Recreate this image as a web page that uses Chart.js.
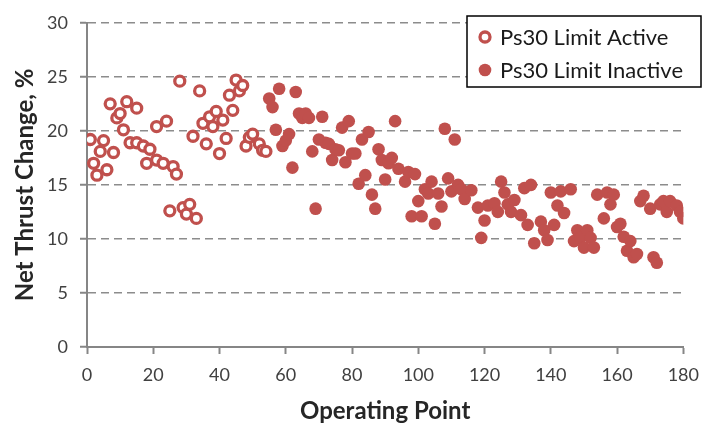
<!DOCTYPE html>
<html>
<head>
<meta charset="utf-8">
<script src="https://cdn.jsdelivr.net/npm/chart.js@4"></script>
<style>
  body { margin: 0; background: #fff; }
</style>
</head>
<body>
<canvas id="thrust" width="709" height="429"></canvas>
<script>
// Ps30 limit active points (operating point, net thrust change %)
const activeOp = [1, 2, 3, 4, 5, 6, 7, 8, 9, 10, 11, 12, 13, 15, 15, 17, 18, 19, 21, 21,
  23, 24, 25, 26, 27, 28, 29, 30, 31, 32, 33, 34, 35, 36, 37, 38, 39, 40, 41, 42,
  43, 44, 45, 46, 47, 48, 49, 50, 52, 53, 54];
const activeThrust = [19.2, 17.0, 15.9, 18.1, 19.1, 16.4, 22.5, 18.0, 21.2, 21.6, 20.1, 22.7, 18.9, 18.9, 22.1, 18.6, 17.0, 18.3, 17.3, 20.4,
  17.0, 20.9, 12.6, 16.7, 16.0, 24.6, 12.9, 12.3, 13.2, 19.5, 11.9, 23.7, 20.7, 18.8, 21.3, 20.4, 21.8, 17.9, 21.0, 19.3,
  23.3, 21.9, 24.7, 23.7, 24.2, 18.6, 19.4, 19.7, 18.8, 18.2, 18.1];

// Ps30 limit inactive points
const inactiveOp = [55, 56, 57, 58, 59, 60, 61, 62, 63, 64, 65, 66, 67, 68, 69, 70, 71, 72, 73, 74,
  75, 76, 77, 78, 79, 80, 81, 82, 83, 84, 85, 86, 87, 88, 89, 90, 91, 92, 93, 94,
  96, 97, 98, 99, 100, 101, 102, 103, 104, 105, 106, 107, 108, 109, 110, 111, 112, 113, 114, 116,
  118, 119, 120, 121, 123, 124, 125, 126, 127, 128, 129, 131, 132, 133, 134, 135, 137, 138, 139, 140,
  141, 142, 143, 144, 146, 147, 148, 149, 150, 151, 152, 153, 154, 156, 157, 158, 159, 160, 161, 162,
  163, 164, 165, 166, 167, 168, 170, 171, 172, 173, 174, 175, 176, 178, 179, 180];
const inactiveThrust = [23.0, 22.2, 20.1, 23.9, 18.6, 19.1, 19.7, 16.6, 23.6, 21.6, 21.2, 21.6, 21.2, 18.1, 12.8, 19.2, 21.3, 18.9, 18.8, 17.3,
  18.3, 18.2, 20.3, 17.1, 20.9, 17.9, 17.9, 15.1, 19.2, 15.9, 19.9, 14.1, 12.8, 18.3, 17.3, 15.5, 17.0, 17.5, 20.9, 16.5,
  15.3, 16.2, 12.1, 16.0, 13.5, 12.1, 14.6, 14.2, 15.3, 11.4, 14.2, 13.0, 20.2, 15.6, 14.4, 19.2, 15.0, 14.6, 13.7, 14.5,
  12.9, 10.1, 11.7, 13.1, 13.3, 12.5, 15.3, 14.3, 13.2, 12.5, 13.6, 12.2, 14.7, 11.3, 15.0, 9.6, 11.6, 10.8, 9.9, 14.3,
  11.3, 13.1, 14.4, 12.4, 14.6, 9.8, 10.8, 10.1, 9.2, 10.8, 10.1, 9.2, 14.1, 11.9, 14.3, 13.2, 14.1, 11.1, 11.4, 10.2,
  8.9, 9.8, 8.3, 8.6, 13.5, 14.0, 12.8, 8.3, 7.8, 13.2, 13.5, 12.5, 13.5, 13.1, 12.5, 11.9];

const xTicks = [0, 20, 40, 60, 80, 100, 120, 140, 160, 180];
const yTicks = [0, 5, 10, 15, 20, 25, 30];

const red = "#C0504D";
const fontFamily = "Lato, 'Liberation Sans', sans-serif";

function toPoints(xs, ys) {
  return xs.map((x, i) => ({ x: x, y: ys[i] }));
}

// framed legend inside the plot, top right
const boxLegend = {
  id: "boxLegend",
  afterDraw(chart) {
    const ctx = chart.ctx;
    ctx.save();
    ctx.fillStyle = "#fff";
    ctx.fillRect(467, 16, 234, 71);
    ctx.strokeStyle = "#000";
    ctx.lineWidth = 1.5;
    ctx.strokeRect(467, 16, 234, 71);
    const rows = [37, 70];
    chart.data.datasets.forEach((ds, i) => {
      const y = rows[i];
      ctx.beginPath();
      ctx.arc(485, y, ds.pointRadius, 0, Math.PI * 2);
      if (ds.pointBorderWidth > 0) {
        ctx.fillStyle = "#fff";
        ctx.fill();
        ctx.lineWidth = ds.pointBorderWidth;
        ctx.strokeStyle = ds.pointBorderColor;
        ctx.stroke();
      } else {
        ctx.fillStyle = ds.pointBackgroundColor;
        ctx.fill();
      }
      ctx.fillStyle = "#1a1a1a";
      ctx.font = "22px " + fontFamily;
      ctx.textBaseline = "middle";
      ctx.textAlign = "left";
      ctx.fillText(ds.label, 500, y + 1);
    });
    ctx.restore();
  }
};

new Chart(document.getElementById("thrust"), {
  type: "scatter",
  data: {
    datasets: [
      {
        label: "Ps30 Limit Active",
        data: toPoints(activeOp, activeThrust),
        pointRadius: 5,
        pointBorderWidth: 3.3,
        pointBorderColor: red,
        pointBackgroundColor: "#fff"
      },
      {
        label: "Ps30 Limit Inactive",
        data: toPoints(inactiveOp, inactiveThrust),
        pointRadius: 6.3,
        pointBorderWidth: 0,
        pointBorderColor: red,
        pointBackgroundColor: red
      }
    ]
  },
  options: {
    responsive: false,
    animation: false,
    layout: { padding: { top: 13, right: 17, left: 0, bottom: 0 } },
    plugins: {
      legend: { display: false },
      tooltip: { enabled: false }
    },
    scales: {
      x: {
        type: "linear",
        min: 0,
        max: 180,
        afterBuildTicks: (scale) => { scale.ticks = xTicks.map((v) => ({ value: v })); },
        afterFit: (scale) => { scale.height = 82; },
        border: { color: "#868686", width: 2 },
        grid: { drawOnChartArea: false, drawTicks: true, tickLength: 7, tickColor: "#868686", tickWidth: 2 },
        ticks: { color: "#404040", padding: 10, font: { size: 18, family: fontFamily } },
        title: {
          display: true,
          text: "Operating Point",
          color: "#262626",
          padding: { top: 0, bottom: 3 },
          font: { size: 24, weight: "bold", family: fontFamily }
        }
      },
      y: {
        min: 0,
        max: 30,
        afterBuildTicks: (scale) => { scale.ticks = yTicks.map((v) => ({ value: v })); },
        afterFit: (scale) => { scale.width = 87; },
        border: { color: "#868686", width: 2, dash: [8, 5] },
        grid: {
          color: "#8c8c8c",
          lineWidth: 1.5,
          drawTicks: true,
          tickLength: 7,
          tickColor: "#868686",
          tickWidth: 2,
          tickBorderDash: []
        },
        ticks: { color: "#404040", padding: 12, font: { size: 18, family: fontFamily } },
        title: {
          display: true,
          text: "Net Thrust Change, %",
          color: "#262626",
          padding: { top: 11, bottom: 0 },
          font: { size: 24, weight: "bold", family: fontFamily }
        }
      }
    }
  },
  plugins: [boxLegend]
});
</script>
</body>
</html>
